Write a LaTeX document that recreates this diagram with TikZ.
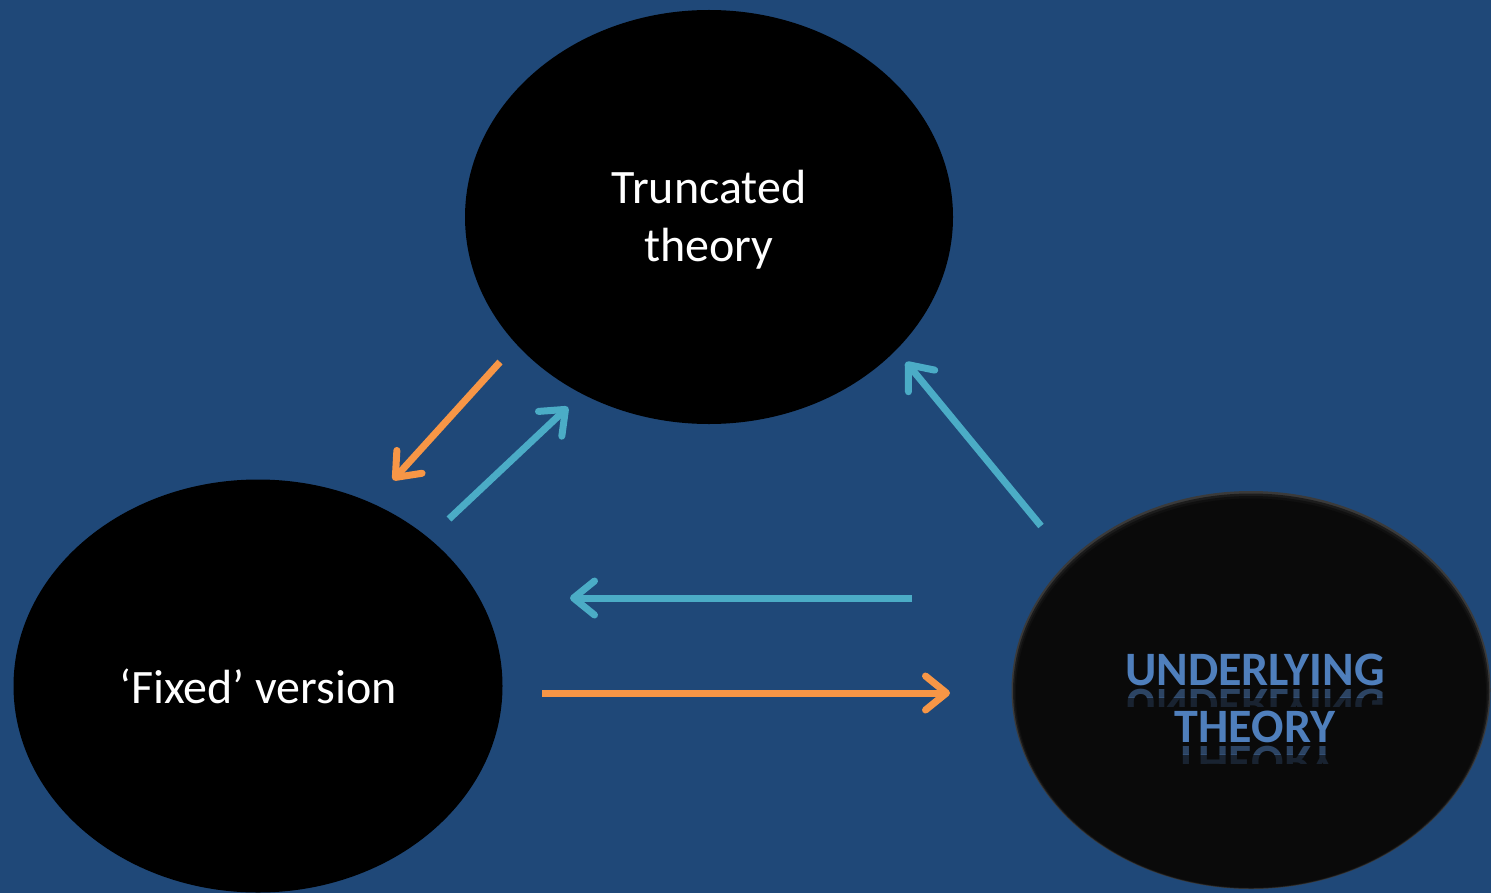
\documentclass[tikz,border=0pt]{standalone}
\usepackage{fontspec}
\setmainfont{Carlito}
\usetikzlibrary{shapes.geometric,arrows.meta}
\definecolor{bg}{HTML}{1F4878}
\definecolor{orng}{HTML}{F79646}
\definecolor{cyn}{HTML}{4BACC6}
\definecolor{ublue}{HTML}{4F7FBC}
\definecolor{rimA}{HTML}{3A3A3A}
\definecolor{rimB}{HTML}{1C1C1C}
\definecolor{rimC}{HTML}{101010}
\definecolor{ufill}{HTML}{0A0A0A}
\begin{document}
\begin{tikzpicture}[x=0.5pt,y=-0.5pt,
  bubble/.style={ellipse, fill=black, inner sep=0pt},
  wtext/.style={inner sep=0pt, text=white, font=\fontsize{24}{29}\selectfont, align=center},
  utext/.style={inner sep=0pt, text=ublue, font=\bfseries\fontsize{24}{28}\selectfont},
  urefl/.style={inner sep=0pt, text=ublue, anchor=base, yscale=-1, transform shape,
    font=\bfseries\fontsize{24}{28}\selectfont},
  arr/.style={line width=3.5pt, -{Straight Barb[length=10.5pt,width=17pt,round]}}
]
\fill[bg] (0,0) rectangle (1491,893);
\useasboundingbox (0,0) rectangle (1491,893);

% ellipses
\node[bubble, minimum width=244pt, minimum height=207pt] (trunc) at (709,217) {};
\node[wtext] (trunctext) at (709,220) {Truncated\\theory};
\node[bubble, minimum width=244.5pt, minimum height=206.5pt] (fixed) at (258,686) {};
\node[wtext] (fixedtext) at (258,686) {‘Fixed’ version};

% underlying theory with soft rim
\fill[rimA] (1251,690) ellipse [x radius=239.5, y radius=199];
\fill[rimB] (1251,691) ellipse [x radius=238, y radius=197.5];
\fill[rimC] (1251,692) ellipse [x radius=236.5, y radius=196];
\node[ellipse, fill=ufill, inner sep=0pt, minimum width=235pt, minimum height=194.5pt] (under) at (1251,693) {};

\node[utext, anchor=base] (u1) at (1255,685) {UNDERLYING};
\node[utext, anchor=base] (u2) at (1255,742) {THEORY};
\begin{scope}
  \clip (1100,688) rectangle (1400,697);
  \node[urefl, opacity=0.5] (u1r) at (1255,689) {UNDERLYING};
\end{scope}
\begin{scope}
  \clip (1100,697) rectangle (1400,706);
  \node[urefl, opacity=0.22] (u1s) at (1255,689) {UNDERLYING};
\end{scope}
\begin{scope}
  \clip (1100,745) rectangle (1400,754);
  \node[urefl, opacity=0.5] (u2r) at (1255,746) {THEORY};
\end{scope}
\begin{scope}
  \clip (1100,754) rectangle (1400,763);
  \node[urefl, opacity=0.22] (u2s) at (1255,746) {THEORY};
\end{scope}

% arrow end points
\coordinate (a1s) at (500,362);
\coordinate (a1e) at (393,480);
\coordinate (a2s) at (449,519);
\coordinate (a2e) at (568,407);
\coordinate (a3s) at (1041,526);
\coordinate (a3e) at (906,362);
\coordinate (a4s) at (912,598);
\coordinate (a4e) at (570,598);
\coordinate (a5s) at (542,693);
\coordinate (a5e) at (950,693);

\draw[arr, orng] (a1s) -- (a1e);
\draw[arr, cyn] (a2s) -- (a2e);
\draw[arr, cyn] (a3s) -- (a3e);
\draw[arr, cyn] (a4s) -- (a4e);
\draw[arr, orng] (a5s) -- (a5e);
\end{tikzpicture}
\end{document}
